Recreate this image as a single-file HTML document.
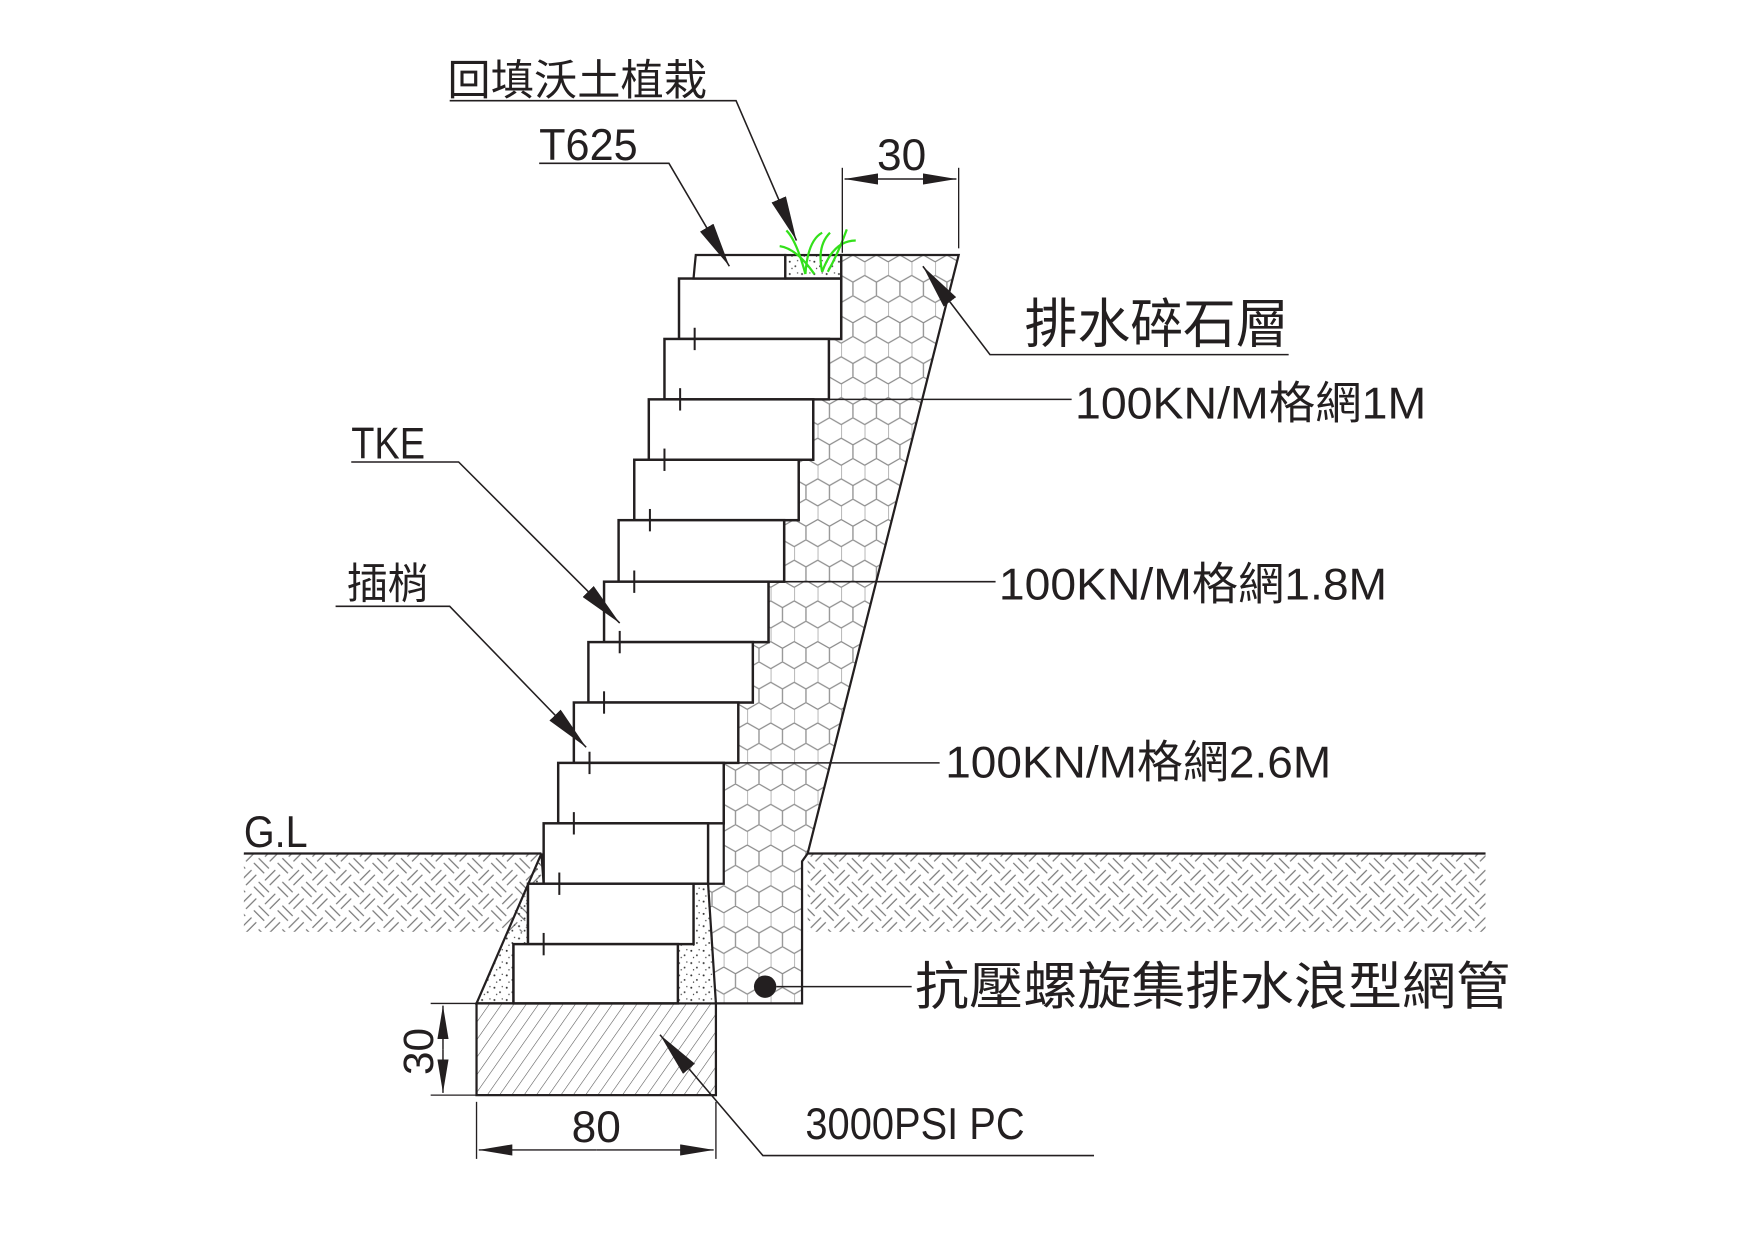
<!DOCTYPE html>
<html><head><meta charset="utf-8"><style>
html,body{margin:0;padding:0;background:#fff;}
svg{display:block;}
text{font-family:"Liberation Sans","Noto Sans CJK TC",sans-serif;fill:#231f20;}
</style></head><body>
<svg width="1754" height="1240" viewBox="0 0 1568 1108.5" xmlns="http://www.w3.org/2000/svg">
<defs>
<pattern id="hex" width="21" height="36.37" patternUnits="userSpaceOnUse" x="752" y="228">
<g fill="none" stroke="#8a8a8a" stroke-width="1.1">
<path d="M0,6.06 L10.5,0 L21,6.06 M0,6.06 L0,18.19 M0,18.19 L10.5,24.25 L21,18.19 M10.5,24.25 L10.5,36.37"/>
</g>
</pattern>
<pattern id="weave" width="30" height="30" patternUnits="userSpaceOnUse" patternTransform="rotate(45)">
<g stroke="#777" stroke-width="1.1">
<line x1="1" y1="4" x2="14" y2="4"/><line x1="1" y1="10" x2="14" y2="10"/>
<line x1="19" y1="1" x2="19" y2="14"/><line x1="25" y1="1" x2="25" y2="14"/>
<line x1="4" y1="16" x2="4" y2="29"/><line x1="10" y1="16" x2="10" y2="29"/>
<line x1="16" y1="19" x2="29" y2="19"/><line x1="16" y1="25" x2="29" y2="25"/>
</g>
</pattern>
<pattern id="diag" width="9" height="9" patternUnits="userSpaceOnUse" patternTransform="rotate(35)">
<line x1="0" y1="0" x2="0" y2="9" stroke="#555" stroke-width="1"/>
</pattern>
<pattern id="dots" width="11" height="11" patternUnits="userSpaceOnUse">
<circle cx="2" cy="3" r="0.9" fill="#333"/><circle cx="7" cy="7" r="0.8" fill="#333"/><circle cx="9" cy="2" r="0.6" fill="#333"/><circle cx="4" cy="9" r="0.6" fill="#333"/>
</pattern>
<marker id="ar" viewBox="0 0 40 14" refX="40" refY="7" markerWidth="40" markerHeight="14" markerUnits="userSpaceOnUse" orient="auto">
<path d="M0,0 L40,7 L0,14 Z" fill="#231f20"/>
</marker>
<marker id="da" viewBox="0 0 30 10" refX="30" refY="5" markerWidth="30" markerHeight="10" markerUnits="userSpaceOnUse" orient="auto">
<path d="M0,0 L30,5 L0,10 Z" fill="#231f20"/>
</marker>
</defs>

<rect x="218" y="763" width="266" height="70" fill="url(#weave)"/>
<rect x="722" y="763" width="606" height="70" fill="url(#weave)"/>
<line x1="218" y1="763" x2="484" y2="763" stroke="#231f20" stroke-width="2"/>
<line x1="722" y1="763" x2="1328" y2="763" stroke="#231f20" stroke-width="2"/>

<path d="M752,228 L857,228 L722,763 L717,770 L717,897 L640,897 L633,790 L647,790 L647,682 L660,682 L660,628 L673,628 L673,574 L687,574 L687,520 L701,520 L701,465 L714,465 L714,411 L727,411 L727,357 L741,357 L741,303 L752,303 Z" fill="#fff"/>
<path d="M752,228 L857,228 L722,763 L717,770 L717,897 L640,897 L633,790 L647,790 L647,682 L660,682 L660,628 L673,628 L673,574 L687,574 L687,520 L701,520 L701,465 L714,465 L714,411 L727,411 L727,357 L741,357 L741,303 L752,303 Z" fill="url(#hex)" stroke="#231f20" stroke-width="2"/>

<path d="M484,763 L426,897 L459,897 L459,844 L472,844 L472,790 L486,790 Z" fill="url(#dots)" stroke="#231f20" stroke-width="2"/>
<path d="M606,790 L633,790 L640,897 L606,897 Z" fill="url(#dots)"/>

<g fill="#fff" stroke="#231f20" stroke-width="2.2">
<rect x="607" y="249" width="145" height="54"/>
<rect x="594" y="303" width="147" height="54"/>
<rect x="580" y="357" width="147" height="54"/>
<rect x="567" y="411" width="147" height="54"/>
<rect x="553" y="465" width="148" height="55"/>
<rect x="540" y="520" width="147" height="54"/>
<rect x="526" y="574" width="147" height="54"/>
<rect x="513" y="628" width="147" height="54"/>
<rect x="499" y="682" width="148" height="54"/>
<rect x="486" y="736" width="147" height="54"/>
<rect x="472" y="790" width="148" height="54"/>
<rect x="459" y="844" width="147" height="53"/>
</g>
<g stroke="#231f20" stroke-width="1.8">
<line x1="621" y1="293" x2="621" y2="313"/><line x1="608" y1="347" x2="608" y2="367"/>
<line x1="594" y1="401" x2="594" y2="421"/><line x1="581" y1="455" x2="581" y2="475"/>
<line x1="567" y1="510" x2="567" y2="530"/><line x1="554" y1="564" x2="554" y2="584"/>
<line x1="540" y1="618" x2="540" y2="638"/><line x1="527" y1="672" x2="527" y2="692"/>
<line x1="513" y1="726" x2="513" y2="746"/><line x1="500" y1="780" x2="500" y2="800"/>
<line x1="486" y1="834" x2="486" y2="854"/>
</g>
<path d="M622,228 L702,228 L702,249 L620,249 L621,238 Z" fill="#fff" stroke="#231f20" stroke-width="2"/>
<rect x="702" y="228" width="50" height="21" fill="url(#dots)" stroke="#231f20" stroke-width="2"/>
<g fill="none" stroke="#33e01a" stroke-width="2">
<path d="M720,245 Q712,215 703,206"/><path d="M720,245 Q722,215 735,208"/><path d="M735,243 Q730,220 742,208"/>
<path d="M735,243 Q745,215 765,215"/><path d="M728,245 Q712,222 697,220"/><path d="M740,243 Q750,225 757,205"/>
</g>

<rect x="426" y="897" width="214" height="82" fill="url(#diag)" stroke="#231f20" stroke-width="2"/>
<line x1="385" y1="897" x2="426" y2="897" stroke="#231f20" stroke-width="1.2"/>
<line x1="385" y1="979" x2="426" y2="979" stroke="#231f20" stroke-width="1.2"/>
<line x1="396" y1="938" x2="396" y2="899" stroke="#231f20" stroke-width="1.3" marker-end="url(#da)"/>
<line x1="396" y1="938" x2="396" y2="977" stroke="#231f20" stroke-width="1.3" marker-end="url(#da)"/>
<text x="0" y="0" font-size="38" transform="translate(387,940) rotate(-90)" text-anchor="middle" textLength="42" lengthAdjust="spacingAndGlyphs">30</text>
<line x1="426" y1="985" x2="426" y2="1036" stroke="#231f20" stroke-width="1.2"/>
<line x1="640" y1="985" x2="640" y2="1036" stroke="#231f20" stroke-width="1.2"/>
<line x1="533" y1="1028" x2="428" y2="1028" stroke="#231f20" stroke-width="1.3" marker-end="url(#da)"/>
<line x1="533" y1="1028" x2="638" y2="1028" stroke="#231f20" stroke-width="1.3" marker-end="url(#da)"/>
<text x="533" y="1021" font-size="40" text-anchor="middle" textLength="44" lengthAdjust="spacingAndGlyphs">80</text>

<line x1="753" y1="150" x2="753" y2="226" stroke="#231f20" stroke-width="1.2"/>
<line x1="857" y1="150" x2="857" y2="222" stroke="#231f20" stroke-width="1.2"/>
<line x1="805" y1="160" x2="755" y2="160" stroke="#231f20" stroke-width="1.3" marker-end="url(#da)"/>
<line x1="805" y1="160" x2="855" y2="160" stroke="#231f20" stroke-width="1.3" marker-end="url(#da)"/>
<text x="806" y="152" font-size="40" text-anchor="middle" textLength="44" lengthAdjust="spacingAndGlyphs">30</text>

<circle cx="684" cy="882" r="10" fill="#231f20"/>
<line x1="694" y1="882" x2="815" y2="882" stroke="#231f20" stroke-width="1.3"/>
<text x="818" y="898" font-size="46" textLength="532" lengthAdjust="spacingAndGlyphs">抗壓螺旋集排水浪型網管</text>

<g stroke="#231f20" stroke-width="1.4" fill="none">
<polyline points="402,90 658,90 712,215" marker-end="url(#ar)"/>
<polyline points="482,146 598,146 652,238" marker-end="url(#ar)"/>
<polyline points="1152,317 885,317 825,238" marker-end="url(#ar)"/>
<line x1="741" y1="357" x2="958" y2="357"/>
<line x1="687" y1="520" x2="890" y2="520"/>
<line x1="647" y1="682" x2="840" y2="682"/>
<polyline points="314,413 410,413 554,557" marker-end="url(#ar)"/>
<polyline points="300,542 402,542 524,668" marker-end="url(#ar)"/>
<polyline points="978,1033 682,1033 590,925" marker-end="url(#ar)"/>
</g>
<text x="400" y="85" font-size="38" textLength="232" lengthAdjust="spacingAndGlyphs">回填沃土植栽</text>
<text x="482" y="143" font-size="40" textLength="88" lengthAdjust="spacingAndGlyphs">T625</text>
<text x="916" y="306" font-size="48" textLength="236" lengthAdjust="spacingAndGlyphs">排水碎石層</text>
<text x="961" y="374" font-size="40" textLength="314" lengthAdjust="spacingAndGlyphs">100KN/M格網1M</text>
<text x="893" y="536" font-size="40" textLength="347" lengthAdjust="spacingAndGlyphs">100KN/M格網1.8M</text>
<text x="845" y="695" font-size="40" textLength="345" lengthAdjust="spacingAndGlyphs">100KN/M格網2.6M</text>
<text x="314" y="410" font-size="40" textLength="66" lengthAdjust="spacingAndGlyphs">TKE</text>
<text x="310" y="535" font-size="38" textLength="73" lengthAdjust="spacingAndGlyphs">插梢</text>
<text x="218" y="757" font-size="40" textLength="57" lengthAdjust="spacingAndGlyphs">G.L</text>
<text x="720" y="1018" font-size="40" textLength="196" lengthAdjust="spacingAndGlyphs">3000PSI PC</text>
</svg>
</body></html>
